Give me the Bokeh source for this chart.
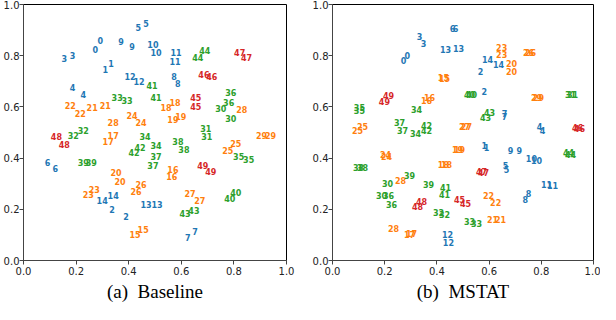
from bokeh.plotting import figure
from bokeh.layouts import row
from bokeh.models import ColumnDataSource, FixedTicker, PrintfTickFormatter, Range1d
from bokeh.embed import file_html
from bokeh.resources import INLINE
from bokeh.core.properties import value

labels = list(range(50))
palette = ["#1f77b4", "#ff7f0e", "#2ca02c", "#d62728"]
ticks = [0.0, 0.2, 0.4, 0.6, 0.8, 1.0]
captions = ["(a)\u00a0\u00a0Baseline", "(b)\u00a0\u00a0MSTAT"]

# Baseline: first and second occurrence of each class label
base_x1 = [0.292, 0.333, 0.337, 0.155, 0.186, 0.436, 0.091, 0.625, 0.572, 0.371,
           0.492, 0.580, 0.405, 0.466, 0.299, 0.455, 0.568, 0.341, 0.542, 0.568,
           0.352, 0.261, 0.178, 0.269, 0.413, 0.807, 0.447, 0.633, 0.341, 0.905,
           0.750, 0.693, 0.189, 0.356, 0.462, 0.818, 0.788, 0.504, 0.587, 0.227,
           0.807, 0.489, 0.443, 0.614, 0.689, 0.655, 0.686, 0.822, 0.125, 0.682]
base_y1 = [0.859, 0.771, 0.198, 0.790, 0.676, 0.912, 0.382, 0.088, 0.718, 0.855,
           0.844, 0.813, 0.718, 0.218, 0.233, 0.122, 0.355, 0.489, 0.599, 0.550,
           0.344, 0.599, 0.607, 0.279, 0.565, 0.458, 0.298, 0.263, 0.538, 0.489,
           0.595, 0.515, 0.489, 0.637, 0.485, 0.408, 0.656, 0.408, 0.466, 0.382,
           0.267, 0.683, 0.443, 0.183, 0.821, 0.637, 0.725, 0.813, 0.485, 0.370]
base_x2 = [0.273, 0.311, 0.390, 0.186, 0.227, 0.466, 0.121, 0.652, 0.587, 0.413,
           0.504, 0.576, 0.439, 0.508, 0.341, 0.424, 0.564, 0.322, 0.576, 0.598,
           0.367, 0.311, 0.216, 0.246, 0.447, 0.777, 0.428, 0.670, 0.830, 0.939,
           0.788, 0.697, 0.227, 0.394, 0.504, 0.856, 0.780, 0.492, 0.610, 0.258,
           0.784, 0.504, 0.420, 0.648, 0.663, 0.655, 0.716, 0.848, 0.155, 0.712]
base_y2 = [0.824, 0.748, 0.172, 0.802, 0.649, 0.927, 0.359, 0.115, 0.691, 0.836,
           0.813, 0.779, 0.698, 0.218, 0.252, 0.103, 0.328, 0.466, 0.618, 0.561,
           0.309, 0.607, 0.576, 0.256, 0.538, 0.431, 0.271, 0.233, 0.588, 0.489,
           0.553, 0.485, 0.508, 0.626, 0.450, 0.393, 0.618, 0.370, 0.435, 0.382,
           0.244, 0.637, 0.420, 0.195, 0.794, 0.603, 0.718, 0.794, 0.454, 0.347]

# MSTAT
mstat_x1 = [0.287, 0.582, 0.567, 0.333, 0.793, 0.663, 0.460, 0.659, 0.751, 0.682,
            0.762, 0.820, 0.441, 0.433, 0.594, 0.425, 0.372, 0.295, 0.425, 0.479,
            0.686, 0.613, 0.598, 0.648, 0.203, 0.096, 0.751, 0.506, 0.261, 0.782,
            0.211, 0.912, 0.406, 0.525, 0.322, 0.103, 0.215, 0.257, 0.100, 0.295,
            0.525, 0.433, 0.360, 0.602, 0.904, 0.487, 0.939, 0.571, 0.341, 0.215]
mstat_y1 = [0.802, 0.450, 0.740, 0.874, 0.523, 0.370, 0.905, 0.576, 0.260, 0.431,
            0.397, 0.298, 0.103, 0.824, 0.786, 0.714, 0.637, 0.103, 0.374, 0.435,
            0.771, 0.160, 0.252, 0.832, 0.416, 0.508, 0.813, 0.523, 0.313, 0.637,
            0.302, 0.649, 0.187, 0.153, 0.588, 0.599, 0.252, 0.538, 0.363, 0.332,
            0.649, 0.286, 0.527, 0.580, 0.420, 0.240, 0.519, 0.347, 0.229, 0.645]
mstat_x2 = [0.272, 0.590, 0.582, 0.349, 0.805, 0.667, 0.471, 0.659, 0.739, 0.716,
            0.782, 0.843, 0.444, 0.483, 0.636, 0.429, 0.360, 0.303, 0.437, 0.487,
            0.686, 0.644, 0.625, 0.648, 0.207, 0.115, 0.759, 0.513, 0.234, 0.789,
            0.188, 0.920, 0.429, 0.552, 0.318, 0.103, 0.226, 0.268, 0.115, 0.368,
            0.533, 0.429, 0.360, 0.586, 0.912, 0.510, 0.946, 0.579, 0.326, 0.199]
mstat_y2 = [0.782, 0.443, 0.660, 0.847, 0.508, 0.355, 0.908, 0.561, 0.240, 0.431,
            0.389, 0.294, 0.069, 0.828, 0.767, 0.710, 0.626, 0.107, 0.374, 0.435,
            0.740, 0.160, 0.225, 0.805, 0.405, 0.523, 0.813, 0.523, 0.126, 0.637,
            0.252, 0.649, 0.179, 0.145, 0.496, 0.584, 0.218, 0.508, 0.363, 0.298,
            0.649, 0.256, 0.508, 0.557, 0.416, 0.221, 0.515, 0.344, 0.210, 0.622]


def make(xs1, ys1, xs2, ys2, caption, w, left, right):
    p = figure(width=w, height=304,
               x_range=Range1d(0, 1), y_range=Range1d(0, 1),
               output_backend="svg", toolbar_location=None,
               min_border_left=left, min_border_right=right,
               min_border_top=4, min_border_bottom=0)
    p.title.visible = False
    p.grid.visible = False
    p.outline_line_color = "black"
    p.outline_line_alpha = 1.0
    p.background_fill_color = "white"
    for ax in (p.xaxis[0], p.yaxis[0]):
        ax.ticker = FixedTicker(ticks=ticks)
        ax.formatter = PrintfTickFormatter(format="%.1f")
        ax.minor_tick_line_color = None
        ax.major_tick_out = 4
        ax.major_tick_in = 0
        ax.major_label_text_font = "DejaVu Sans"
        ax.major_label_text_font_size = "10px"
        ax.major_label_text_color = "#222222"
        ax.axis_line_color = "#444444"
        ax.major_tick_line_color = "#444444"
    p.xaxis.major_label_standoff = 2
    p.yaxis.major_label_standoff = 0
    p.xaxis.axis_label = caption
    p.xaxis.axis_label_text_font = "Liberation Serif"
    p.xaxis.axis_label_text_font_size = "19px"
    p.xaxis.axis_label_text_font_style = "normal"
    p.xaxis.axis_label_text_color = "black"
    p.xaxis.axis_label_standoff = 3
    txt = [str(l) for l in labels]
    col = [palette[l // 15] for l in labels]
    src = ColumnDataSource(dict(x=xs1 + xs2, y=ys1 + ys2, t=txt + txt, c=col + col))
    p.text(x="x", y="y", text="t", text_color="c", source=src,
           text_font=value("DejaVu Sans"), text_font_size="8px",
           text_font_style="bold", text_align="center", text_baseline="middle")
    return p


p1 = make(base_x1, base_y1, base_x2, base_y2, captions[0], 300, 22, 14)
p2 = make(mstat_x1, mstat_y1, mstat_x2, mstat_y2, captions[1], 300, 32, 7)
layout = row(p1, p2)
open("out.html", "w").write(file_html(layout, INLINE))
